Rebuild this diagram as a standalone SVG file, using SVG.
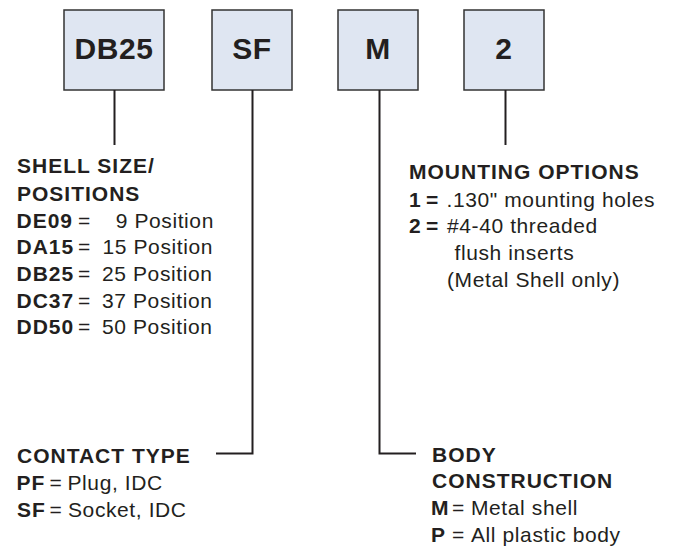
<svg xmlns="http://www.w3.org/2000/svg" width="675" height="547" viewBox="0 0 675 547">
<style>
text{font-family:"Liberation Sans",Arial,sans-serif;fill:#231f20;font-size:21px}
.h{font-weight:bold;letter-spacing:1px}
.b{font-weight:bold;letter-spacing:1px}
.r{letter-spacing:0.6px}
.box{fill:#dfe6f2;stroke:#333;stroke-width:1.5}
.bt{font-size:30px;font-weight:bold;text-anchor:middle;letter-spacing:0.6px}
.ln{fill:none;stroke:#231f20;stroke-width:2}
</style>
<rect width="675" height="547" fill="#fff"/>
<g id="node-db25"><rect class="box" x="64" y="10" width="100" height="80"/><text class="bt" x="114" y="58.5">DB25</text></g>
<g id="node-sf"><rect class="box" x="212" y="10" width="80" height="80"/><text class="bt" x="252" y="58.5">SF</text></g>
<g id="node-m"><rect class="box" x="338" y="10" width="80" height="80"/><text class="bt" x="378" y="58.5">M</text></g>
<g id="node-2"><rect class="box" x="464" y="10" width="80" height="80"/><text class="bt" x="504" y="58.5">2</text></g>
<g id="connectors">
<path class="ln" d="M114.5 90V145"/>
<path class="ln" d="M252.5 90V453.5H216"/>
<path class="ln" d="M379.5 90V453.5H416"/>
<path class="ln" d="M505.5 90V145"/>
</g>
<g id="shell-size">
<text class="h" x="17" y="172.7">SHELL SIZE/</text>
<text class="h" x="17" y="200.7">POSITIONS</text>
<text class="b" x="16.5" y="227.7">DE09</text><text class="r" x="78" y="227.7">=</text><text class="r" x="115.7" y="227.7">9 Position</text>
<text class="b" x="16.5" y="254.3">DA15</text><text class="r" x="78" y="254.3">=</text><text class="r" x="102.5" y="254.3">15 Position</text>
<text class="b" x="16.5" y="281">DB25</text><text class="r" x="78" y="281">=</text><text class="r" x="102" y="281">25 Position</text>
<text class="b" x="16.5" y="307.7">DC37</text><text class="r" x="78" y="307.7">=</text><text class="r" x="102" y="307.7">37 Position</text>
<text class="b" x="16.5" y="334.3">DD50</text><text class="r" x="78" y="334.3">=</text><text class="r" x="102" y="334.3">50 Position</text>
</g>
<g id="mounting-options">
<text class="h" x="409" y="179.3">MOUNTING OPTIONS</text>
<text class="b" x="409" y="206.7">1</text><text class="b" x="426" y="206.7">=</text><text class="r" x="446.5" y="206.7">.130" mounting holes</text>
<text class="b" x="409" y="233.3">2</text><text class="b" x="426" y="233.3">=</text><text class="r" x="447" y="233.3">#4-40 threaded</text>
<text class="r" x="454.5" y="260">flush inserts</text>
<text class="r" x="447" y="286.7">(Metal Shell only)</text>
</g>
<g id="contact-type">
<text class="h" x="17" y="463.3">CONTACT TYPE</text>
<text class="b" x="16.5" y="490">PF</text><text class="r" x="49.5" y="490">=</text><text class="r" x="67.5" y="490">Plug, IDC</text>
<text class="b" x="17" y="516.7">SF</text><text class="r" x="49.5" y="516.7">=</text><text class="r" x="68" y="516.7">Socket, IDC</text>
</g>
<g id="body-construction">
<text class="h" x="432" y="461.7">BODY</text>
<text class="h" x="432" y="488.3">CONSTRUCTION</text>
<text class="b" x="431" y="515">M</text><text class="r" x="452" y="515">=</text><text class="r" x="471" y="515">Metal shell</text>
<text class="b" x="431" y="541.7">P</text><text class="r" x="452" y="541.7">=</text><text class="r" x="471" y="541.7">All plastic body</text>
</g>
</svg>
